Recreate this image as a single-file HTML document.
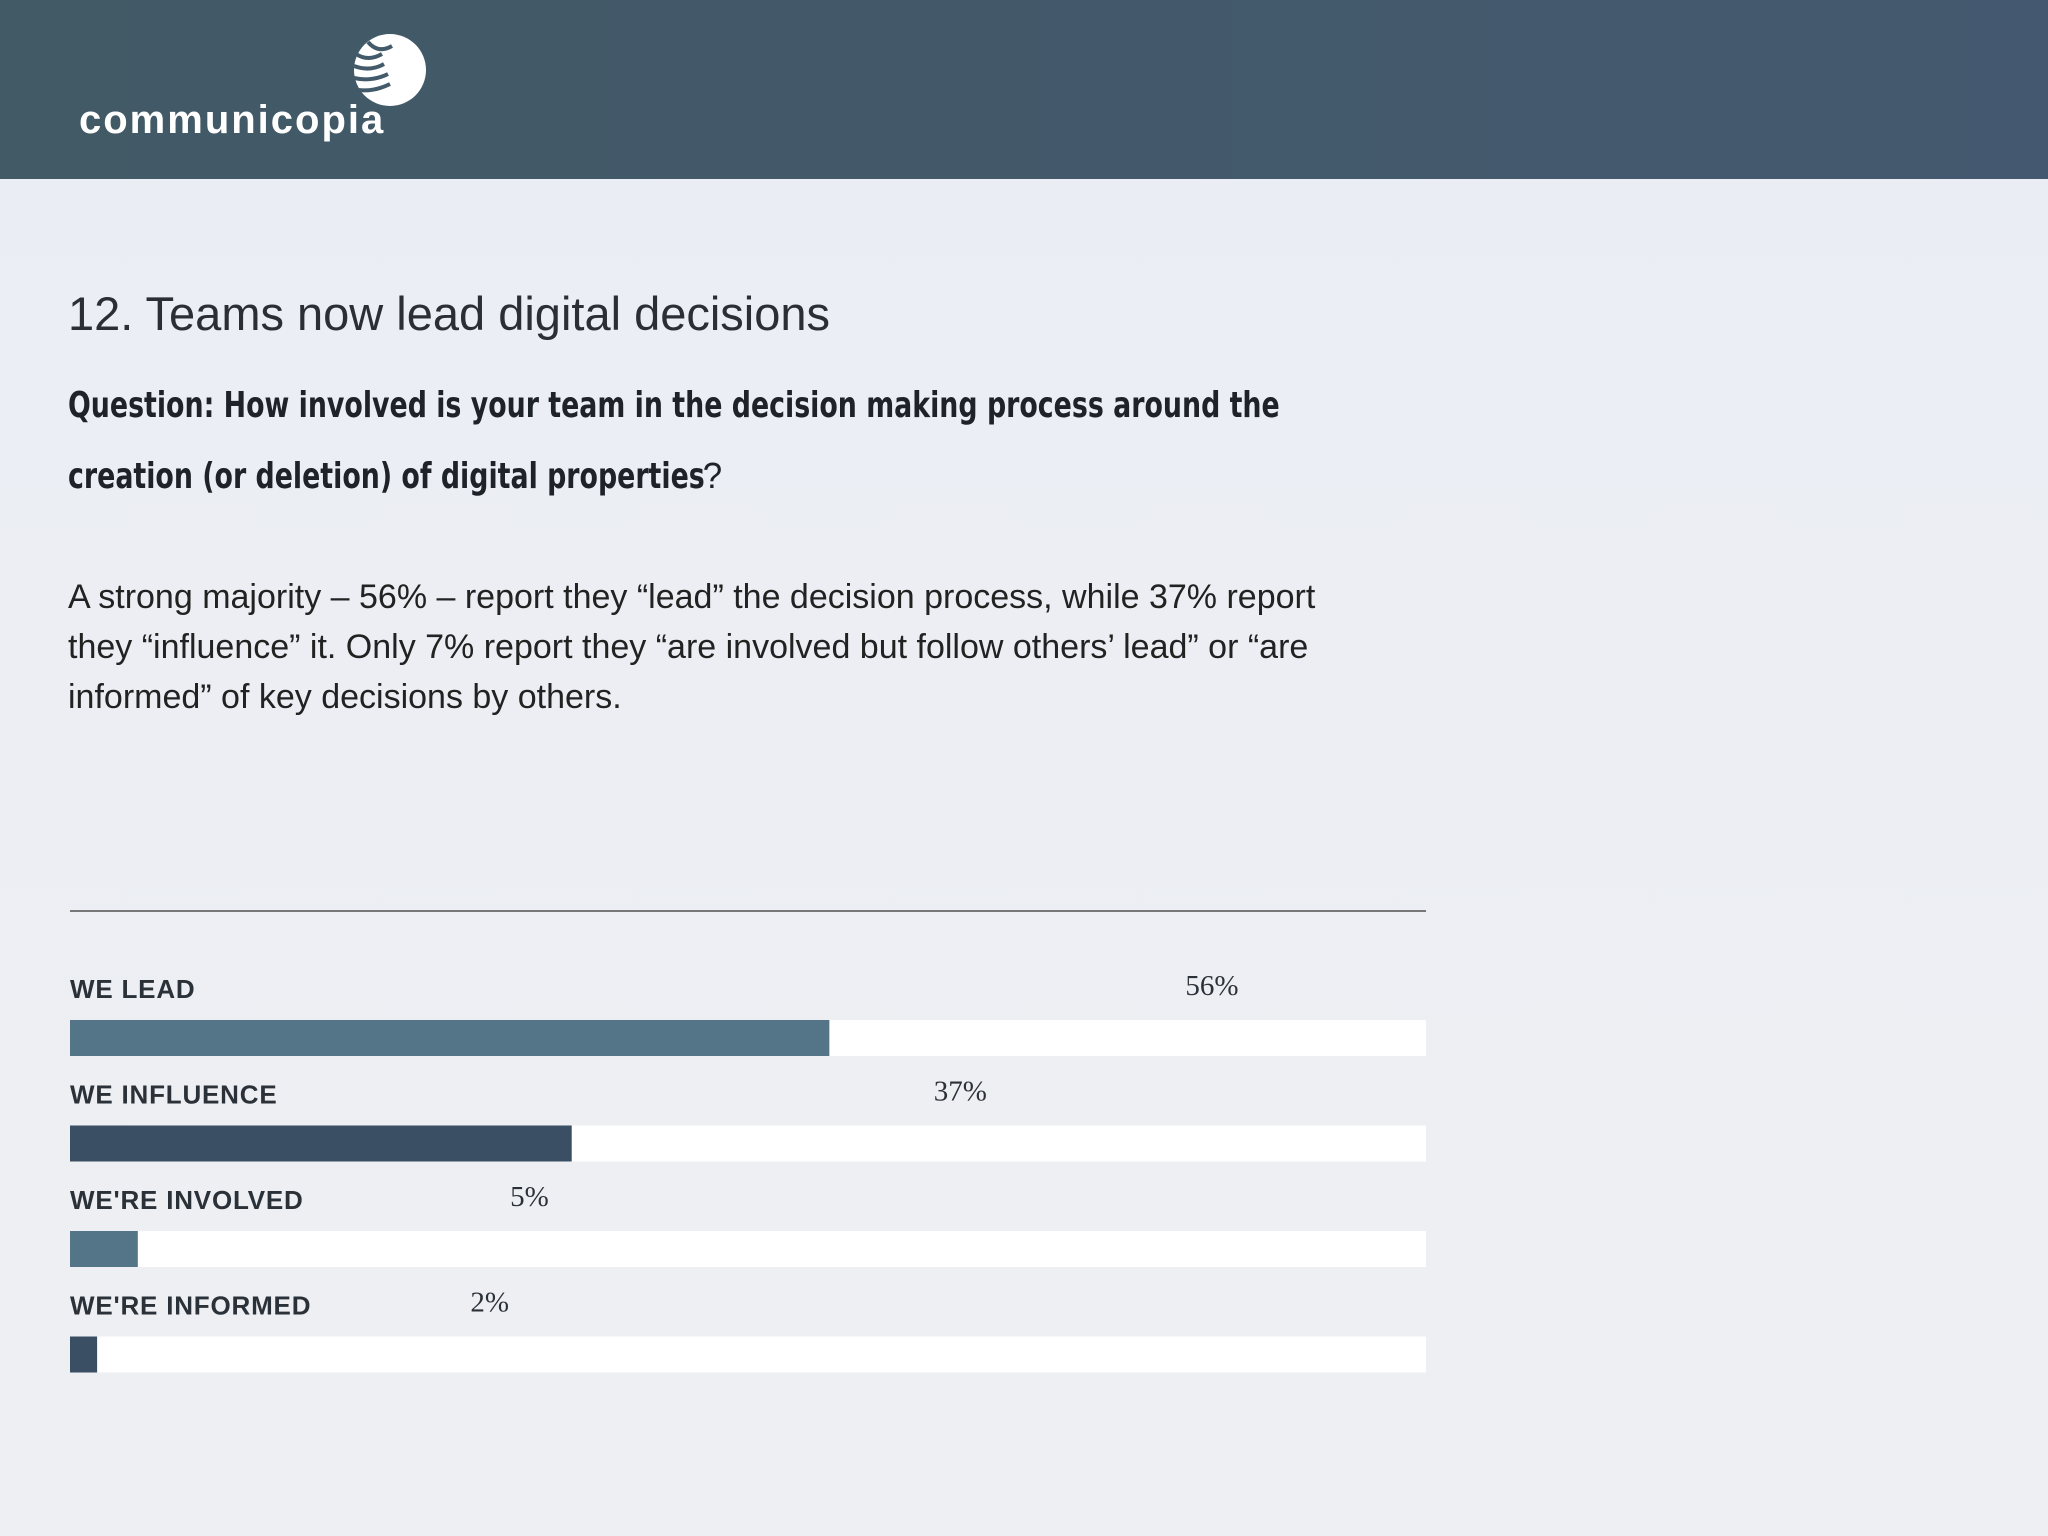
<!DOCTYPE html>
<html><head><meta charset="utf-8"><style>
body{margin:0;width:2048px;height:1536px;overflow:hidden;background:linear-gradient(180deg,#eaeef4,#eeeff2);font-family:"Liberation Sans",sans-serif;position:relative;color:#222}
.hdr{position:absolute;left:0;top:0;width:2048px;height:179px;background:linear-gradient(90deg,#425966,#44596f)}
.abs{position:absolute;margin:0}
.q{position:absolute;left:68px;white-space:nowrap;font-size:36px;font-weight:bold;font-family:'DejaVu Sans',sans-serif;color:#1e232a;transform:scaleX(0.745);transform-origin:0 0}
</style></head><body>
<div class="hdr">
 <svg class="abs" style="left:348px;top:32px" width="80" height="76">
  <circle cx="42" cy="38" r="36" fill="#fff"/>
  <g stroke="#435a6a" stroke-width="4" fill="none">
   <path d="M8 22 Q20 30 34 22"/><path d="M6 34 Q22 40 36 32"/><path d="M6 46 Q24 50 40 42"/><path d="M10 58 Q26 60 42 52"/><path d="M20 10 Q30 22 44 14"/>
  </g>
 </svg>
 <div class="abs" style="left:79px;top:98px;font-size:40px;font-weight:bold;color:#fff;letter-spacing:2px">communicopia</div>
</div>
<h1 class="abs" style="left:68px;top:286px;font-size:47px;font-weight:normal;color:#2a2f36">12. Teams now lead digital decisions</h1>
<div class="q" style="top:385px">Question: How involved is your team in the decision making process around the</div>
<div class="q" style="top:455px">creation (or deletion) of digital properties<span style="font-weight:normal;font-family:'Liberation Sans',sans-serif;display:inline-block;transform:scaleX(1.3)">?</span></div>
<div class="abs" style="left:68px;top:572px;width:1380px;font-size:34px;line-height:50px;color:#222">A strong majority – 56% – report they “lead” the decision process, while 37% report<br>they “influence” it. Only 7% report they “are involved but follow others’ lead” or “are<br>informed” of key decisions by others.</div>
<svg class="abs" style="left:0;top:0" width="2048" height="1536" id="chart">
 <line x1="70" x2="1426" y1="911" y2="911" stroke="#777" stroke-width="2"/>
</svg>
<script>
const categories=["WE LEAD","WE INFLUENCE","WE'RE INVOLVED","WE'RE INFORMED"];
const values=[56,37,5,2];
const valueLabels=["56%","37%","5%","2%"];
const barColors=["#547588","#3a4f63","#547588","#3a4f63"];
const svg=document.getElementById('chart');
const NS="http://www.w3.org/2000/svg";
const x0=70,trackW=1356;
function xScale(v){return x0+trackW*v/100;}
function rowY(i){return 1020+i*105.5;}
categories.forEach((c,i)=>{
 const y=rowY(i);
 const t=document.createElementNS(NS,'rect');
 t.setAttribute('x',x0);t.setAttribute('y',y);t.setAttribute('width',trackW);t.setAttribute('height',36);t.setAttribute('fill','#fff');
 
 
 svg.appendChild(t);
 const b=document.createElementNS(NS,'rect');
 b.setAttribute('x',x0);b.setAttribute('y',y);b.setAttribute('width',xScale(values[i])-x0);b.setAttribute('height',36);b.setAttribute('fill',barColors[i]);
 
 
 svg.appendChild(b);
 const l=document.createElementNS(NS,'text');
 l.setAttribute('x',x0);l.setAttribute('y',y-22);l.setAttribute('font-size','26');l.setAttribute('font-weight','bold');l.setAttribute('letter-spacing','0.8');l.setAttribute('fill','#2b3138');l.setAttribute('font-family','Liberation Sans, sans-serif');
 l.textContent=c;
 
 
 svg.appendChild(l);
 const v=document.createElementNS(NS,'text');
 v.setAttribute('x',xScale(values[i])+356+(56-values[i])*0.32);v.setAttribute('y',y-25);v.setAttribute('font-size','29');v.setAttribute('fill','#2b3138');v.setAttribute('font-family','Liberation Serif, serif');
 v.textContent=valueLabels[i];
 
 
 svg.appendChild(v);
});
</script>
</body></html>
